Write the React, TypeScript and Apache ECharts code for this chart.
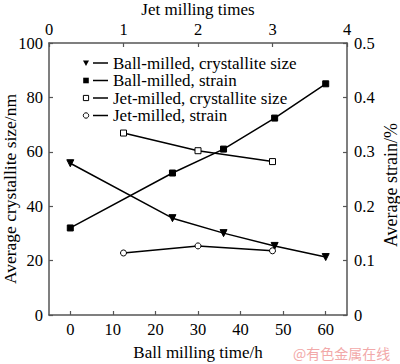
import React, { useEffect, useRef } from "react";
import * as echarts from "echarts";

const ballTimes = [0, 24, 36, 48, 60];
const ballCrystallite = [55.8, 35.6, 30.1, 25.4, 21.3];
const ballStrain = [0.16, 0.261, 0.305, 0.362, 0.425];
const jetTimes = [1, 2, 3];
const jetCrystallite = [66.9, 60.4, 56.4];
const jetStrain = [0.114, 0.127, 0.118];
const ballTicks = [0, 10, 20, 30, 40, 50, 60];
const legendLabels = [
  "Ball-milled, crystallite size",
  "Ball-milled, strain",
  "Jet-milled, crystallite size",
  "Jet-milled, strain",
];

const FONT = "Liberation Serif, Times New Roman, serif";
const AXIS_COLOR = "#555";

export default function App() {
  const ref = useRef<HTMLDivElement>(null);
  useEffect(() => {
    if (!ref.current) return;
    const chart = echarts.init(ref.current, null, { renderer: "svg" });
    const axisCommon = {
      axisLine: { show: true, onZero: false, lineStyle: { color: AXIS_COLOR, width: 1.5 } },
      axisTick: { show: true, inside: true, length: 4, lineStyle: { color: AXIS_COLOR, width: 1.2 } },
      axisLabel: { color: "#000", fontSize: 16.5, fontFamily: FONT },
      splitLine: { show: false },
      nameMoveOverlap: false,
      nameTextStyle: { color: "#000", fontSize: 17, fontFamily: FONT },
    };
    const legendY = [63, 80.5, 98, 115.5];
    const mx = 86;
    const legendGraphics: any[] = [];
    legendLabels.forEach((lbl, i) => {
      const y = legendY[i];
      let marker: any;
      if (i === 0) {
        marker = { type: "polygon", shape: { points: [[mx - 3, y - 2.5], [mx + 3, y - 2.5], [mx, y + 3]] }, style: { fill: "#000" } };
      } else if (i === 1) {
        marker = { type: "rect", shape: { x: mx - 2.8, y: y - 2.8, width: 5.6, height: 5.6 }, style: { fill: "#000" } };
      } else if (i === 2) {
        marker = { type: "rect", shape: { x: mx - 2.6, y: y - 2.6, width: 5.2, height: 5.2 }, style: { fill: "#fff", stroke: "#000", lineWidth: 1 } };
      } else {
        marker = { type: "circle", shape: { cx: mx, cy: y, r: 2.7 }, style: { fill: "#fff", stroke: "#000", lineWidth: 1 } };
      }
      legendGraphics.push(marker);
      legendGraphics.push({ type: "line", shape: { x1: 93, y1: y, x2: 108, y2: y }, style: { stroke: "#000", lineWidth: 1.5 } });
      legendGraphics.push({
        type: "text",
        x: 113,
        y: y,
        style: {
          text: lbl,
          fontSize: 17,
          fontFamily: FONT,
          fill: "#000",
          verticalAlign: "middle",
          align: "left",
        },
      });
    });
    legendGraphics.push({
      type: "text",
      x: 293,
      y: 353,
      style: {
        text: "@有色金属在线",
        fontSize: 14,
        fontFamily: "Noto Sans CJK SC, sans-serif",
        fill: "#f2a9a9",
        verticalAlign: "middle",
        align: "left",
      },
    });

    const lineStyle = { color: "#000", width: 1.5 };
    chart.setOption({
      animation: false,
      backgroundColor: "#fff",
      grid: { left: 49, top: 43, width: 298, height: 272, containLabel: false, outerBoundsMode: "none" },
      xAxis: [
        {
          ...axisCommon,
          type: "value",
          position: "bottom",
          min: -5,
          max: 65,
          name: "Ball milling time/h",
          nameLocation: "middle",
          nameGap: 29,
          axisTick: { ...axisCommon.axisTick, customValues: ballTicks },
          axisLabel: { ...axisCommon.axisLabel, customValues: ballTicks, margin: 6 },
        },
        {
          ...axisCommon,
          type: "value",
          position: "top",
          min: 0,
          max: 4,
          interval: 1,
          name: "Jet milling times",
          nameLocation: "middle",
          nameGap: 25,
          axisLabel: { ...axisCommon.axisLabel, margin: 5 },
        },
      ],
      yAxis: [
        {
          ...axisCommon,
          type: "value",
          position: "left",
          min: 0,
          max: 100,
          interval: 20,
          name: "Average crystallite size/nm",
          nameLocation: "middle",
          nameGap: 30,
          nameTextStyle: { ...axisCommon.nameTextStyle, fontSize: 17.5, padding: [0, 20, 0, 0] },
          axisLabel: { ...axisCommon.axisLabel, margin: 6 },
        },
        {
          ...axisCommon,
          type: "value",
          position: "right",
          min: 0,
          max: 0.5,
          interval: 0.1,
          name: "Average strain/%",
          nameLocation: "middle",
          nameGap: 35,
          nameRotate: 90,
          nameTextStyle: { ...axisCommon.nameTextStyle, fontSize: 18, padding: [0, 12, 0, 0] },
          axisLabel: { ...axisCommon.axisLabel, margin: 7 },
        },
      ],
      series: [
        {
          type: "line",
          xAxisIndex: 0,
          yAxisIndex: 0,
          data: ballTimes.map((t, i) => [t, ballCrystallite[i]]),
          symbol: "triangle",
          symbolRotate: 180,
          symbolSize: 7,
          lineStyle,
          itemStyle: { color: "#000", borderColor: "#000" },
        },
        {
          type: "line",
          xAxisIndex: 0,
          yAxisIndex: 1,
          data: ballTimes.map((t, i) => [t, ballStrain[i]]),
          symbol: "rect",
          symbolSize: 6,
          lineStyle,
          itemStyle: { color: "#000", borderColor: "#000" },
        },
        {
          type: "line",
          xAxisIndex: 1,
          yAxisIndex: 0,
          data: jetTimes.map((t, i) => [t, jetCrystallite[i]]),
          symbol: "rect",
          symbolSize: 6,
          showAllSymbol: true,
          lineStyle,
          itemStyle: { color: "#fff", borderColor: "#000", borderWidth: 1 },
        },
        {
          type: "line",
          xAxisIndex: 1,
          yAxisIndex: 1,
          data: jetTimes.map((t, i) => [t, jetStrain[i]]),
          symbol: "circle",
          symbolSize: 6,
          lineStyle,
          itemStyle: { color: "#fff", borderColor: "#000", borderWidth: 1 },
        },
      ],
      graphic: legendGraphics,
    });
    return () => chart.dispose();
  }, []);
  return (
    <div
      ref={ref}
      style={{ position: "fixed", left: 0, top: 0, width: 400, height: 364, background: "#fff" }}
    />
  );
}
